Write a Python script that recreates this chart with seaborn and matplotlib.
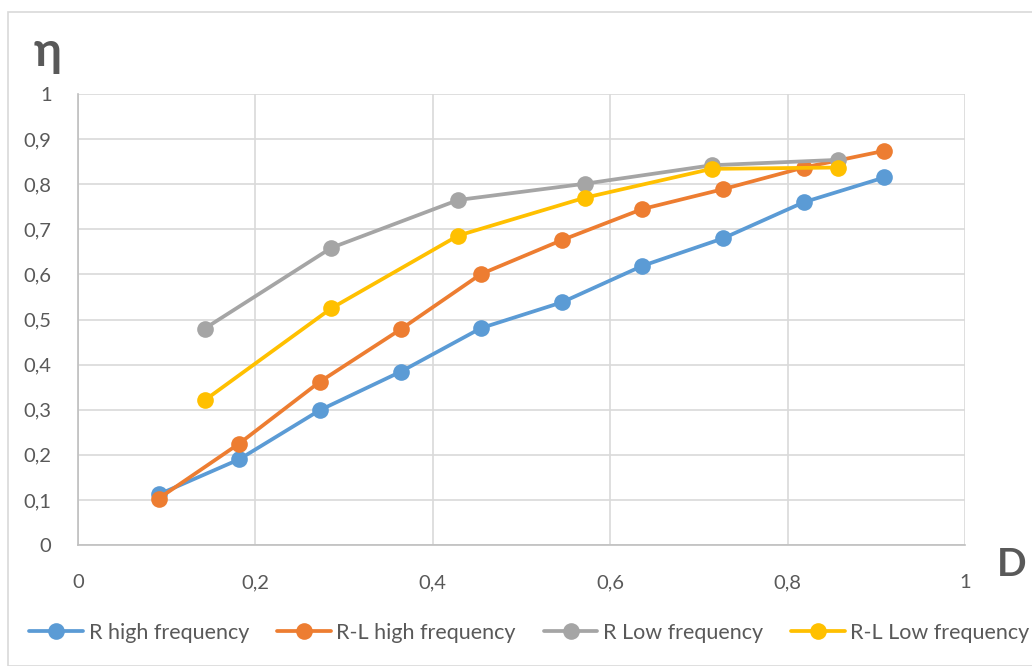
import numpy as np
import pandas as pd
import matplotlib
matplotlib.use("Agg")
import matplotlib.pyplot as plt
import seaborn as sns
from matplotlib.patches import Rectangle

# ---- data ----
d_high = [0.0909, 0.1818, 0.2727, 0.3636, 0.4545, 0.5455, 0.6364, 0.7273, 0.8182, 0.9091]
r_high = [0.112, 0.190, 0.299, 0.384, 0.481, 0.538, 0.619, 0.680, 0.760, 0.815]
rl_high = [0.103, 0.225, 0.362, 0.478, 0.601, 0.676, 0.745, 0.789, 0.837, 0.874]

d_low = [0.1429, 0.2857, 0.4286, 0.5714, 0.7143, 0.8571]
r_low = [0.480, 0.659, 0.765, 0.801, 0.842, 0.854]
rl_low = [0.321, 0.525, 0.686, 0.770, 0.834, 0.837]

series_names = ["R high frequency", "R-L high frequency", "R Low frequency", "R-L Low frequency"]
colors = ["#5B9BD5", "#ED7D31", "#A5A5A5", "#FFC000"]

x_ticks = [0, 0.2, 0.4, 0.6, 0.8, 1]
x_tick_labels = ["0", "0,2", "0,4", "0,6", "0,8", "1"]
y_ticks = [0, 0.1, 0.2, 0.3, 0.4, 0.5, 0.6, 0.7, 0.8, 0.9, 1]
y_tick_labels = ["0", "0,1", "0,2", "0,3", "0,4", "0,5", "0,6", "0,7", "0,8", "0,9", "1"]

frames = []
for name, xs, ys in zip(series_names, [d_high, d_high, d_low, d_low], [r_high, rl_high, r_low, rl_low]):
    frames.append(pd.DataFrame({"D": xs, "eta": ys, "series": name}))
df = pd.concat(frames, ignore_index=True)

# ---- plot ----
sns.set_theme(style="white")
plt.rcParams["font.family"] = ["Lato", "DejaVu Sans"]

fig = plt.figure(figsize=(10.32, 6.66), dpi=100)
ax = fig.add_axes([78 / 1032, 121 / 666, (965 - 78) / 1032, (545 - 94) / 666])

sns.lineplot(data=df, x="D", y="eta", hue="series", hue_order=series_names,
             palette=colors, marker="o", markersize=12, markeredgewidth=0,
             linewidth=2.7, sort=False, estimator=None, ax=ax, legend=True)

ax.set_xlim(0, 1)
ax.set_ylim(0, 1)
ax.set_xticks(x_ticks)
ax.set_xticklabels(x_tick_labels)
ax.set_yticks(y_ticks)
ax.set_yticklabels(y_tick_labels)
ax.tick_params(axis="both", labelsize=14.5, labelcolor="#595959", length=0)
ax.tick_params(axis="x", pad=21)
ax.tick_params(axis="y", pad=19)
ax.grid(True, color="#d9d9d9", linewidth=1.2)
ax.set_axisbelow(True)
for s in ["top", "right"]:
    ax.spines[s].set_visible(False)
for s in ["left", "bottom"]:
    ax.spines[s].set_color("#bfbfbf")
    ax.spines[s].set_linewidth(1.2)
ax.set_xlabel("")
ax.set_ylabel("")

fig.text(48 / 1032, 1 - 52 / 666, "η", fontsize=34, fontweight="bold", color="#595959",
         ha="center", va="center")
fig.text(1012 / 1032, 1 - 564 / 666, "D", fontsize=28, fontweight="bold", color="#595959",
         ha="center", va="center")

handles, labels = ax.get_legend_handles_labels()
ax.legend_.remove()
fig.legend(handles, labels, loc="center", bbox_to_anchor=(0.513, 1 - 633 / 666), ncol=4,
           frameon=False, fontsize=15.5, labelcolor="#595959", handlelength=2.5,
           handletextpad=0.25, columnspacing=1.3)

fig.patches.append(Rectangle((8 / 1032, 0.0), 1.2, 1 - 12 / 666, transform=fig.transFigure,
                             fill=False, edgecolor="#d9d9d9", linewidth=1.2))

fig.savefig("out.png", dpi=100)
